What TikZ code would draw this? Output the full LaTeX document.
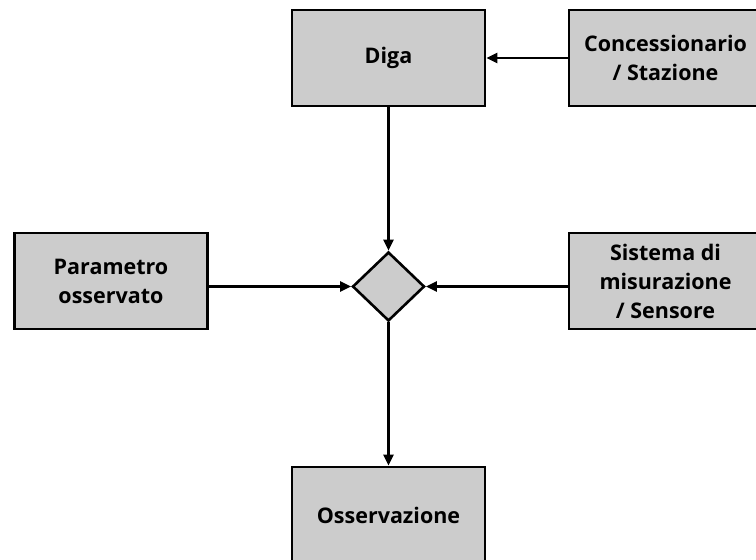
\documentclass[tikz,border=0pt]{standalone}
\usepackage{fontspec}
\setmainfont{Open Sans}
\usetikzlibrary{shapes.geometric,arrows.meta}
\definecolor{boxgray}{HTML}{CCCCCC}
\begin{document}
\begin{tikzpicture}[x=1pt,y=-1pt,
  box/.style={draw=black,line width=2.8pt,fill=boxgray,minimum width=193pt,minimum height=96pt,
    inner sep=0pt,align=center,font=\fontsize{21.5}{29}\selectfont\bfseries},
  dia/.style={draw=black,line width=2.6pt,fill=boxgray,shape=diamond,minimum width=72pt,minimum height=69pt,inner sep=0pt},
  conn/.style={draw=black,line width=2.4pt,-{Triangle[length=11pt,width=10pt]}}]
\useasboundingbox (0,0) rectangle (756,560);
\fill[white] (0,0) rectangle (756,560);
\node[box] (diga) at (388.5,58) {Diga};
\node[box] (conc) at (665.5,58) {Concessionario\\/ Stazione};
\node[box] (param) at (111,281) {Parametro\\osservato};
\node[box] (sist) at (665.5,281) {Sistema di\\misurazione\\/ Sensore};
\node[box] (oss) at (388.5,515) {Osservazione};
\node[dia] (d) at (388.5,286.5) {};
\draw[conn] (conc.west) -- (diga.east);
\draw[conn] (diga.south) -- (d.north);
\draw[conn] (param.east |- d.west) -- (d.west);
\draw[conn] (sist.west |- d.east) -- (d.east);
\draw[conn] (d.south) -- (oss.north);
\end{tikzpicture}
\end{document}
